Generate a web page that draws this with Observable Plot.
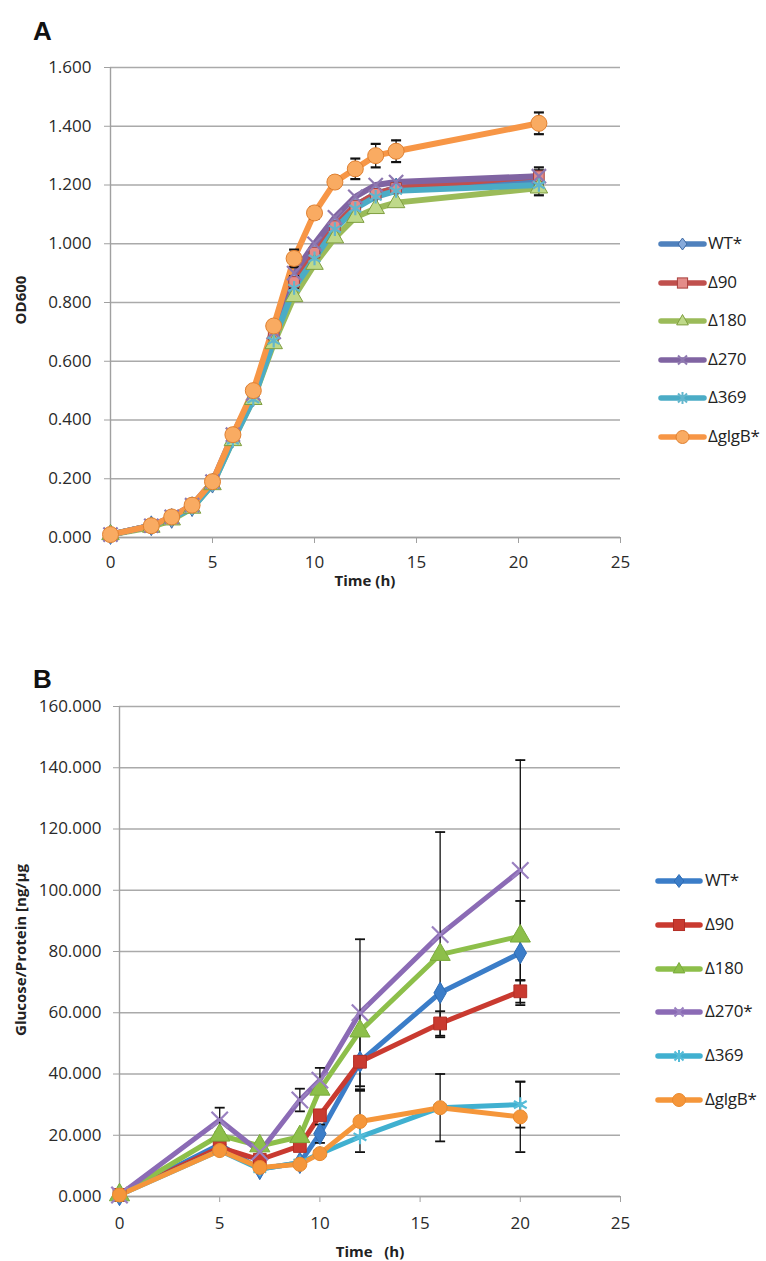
<!DOCTYPE html>
<html><head><meta charset="utf-8">
<script src="https://cdn.jsdelivr.net/npm/d3@7"></script>
<script src="https://cdn.jsdelivr.net/npm/@observablehq/plot@0.6"></script>
<style>
body{margin:0;background:#fff;}
#wrap{position:relative;width:766px;height:1261px;overflow:hidden;font-family:"Open Sans",sans-serif;color:#222;}
.panel{font-family:"Liberation Sans",Arial,sans-serif;font-weight:bold;font-size:26px;line-height:26px;color:#111;}
.title{font-weight:bold;font-size:15px;line-height:16px;height:16px;text-align:center;white-space:pre;color:#222;}
.leg{font-size:17px;line-height:20px;white-space:nowrap;color:#222;letter-spacing:-0.2px;}
</style></head>
<body><div id="wrap"></div>
<script>
// ---------- Panel A data (OD600) ----------
const namesA = ["WT*", "Δ90", "Δ180", "Δ270", "Δ369", "ΔglgB*"];
const timeA = [0, 2, 3, 4, 5, 6, 7, 8, 9, 10, 11, 12, 13, 14, 21];
const wtA    = [0.01, 0.04, 0.065, 0.105, 0.185, 0.34, 0.48, 0.68, 0.87, 0.97, 1.06, 1.13, 1.17, 1.19, 1.21];
const d90A   = [0.01, 0.04, 0.065, 0.105, 0.185, 0.34, 0.48, 0.69, 0.87, 0.97, 1.06, 1.13, 1.17, 1.19, 1.23];
const d180A  = [0.01, 0.035, 0.06, 0.10, 0.18, 0.33, 0.47, 0.66, 0.82, 0.93, 1.02, 1.09, 1.12, 1.14, 1.19];
const d270A  = [0.01, 0.04, 0.07, 0.11, 0.19, 0.35, 0.49, 0.70, 0.90, 1.00, 1.09, 1.16, 1.20, 1.21, 1.23];
const d369A  = [0.01, 0.04, 0.065, 0.10, 0.18, 0.33, 0.47, 0.67, 0.85, 0.95, 1.05, 1.12, 1.16, 1.18, 1.20];
const glgBA  = [0.01, 0.04, 0.07, 0.11, 0.19, 0.35, 0.50, 0.72, 0.95, 1.105, 1.21, 1.255, 1.30, 1.315, 1.41];
const errWtA   = [0,0,0,0,0,0,0,0,0,0,0,0,0,0,0.02];
const errD90A  = [0,0,0,0,0,0,0,0,0.02,0,0,0,0,0,0.03];
const errD180A = [0,0,0,0,0,0,0,0,0,0,0,0,0,0,0.025];
const errD270A = [0,0,0,0,0,0,0,0,0,0,0,0,0,0,0.02];
const errD369A = [0,0,0,0,0,0,0,0,0,0,0,0,0,0,0];
const errGlgBA = [0,0,0,0,0,0,0,0,0.03,0.02,0.02,0.035,0.04,0.037,0.037];
const yTicksA = [0, 0.2, 0.4, 0.6, 0.8, 1.0, 1.2, 1.4, 1.6];
const xTicks = [0, 5, 10, 15, 20, 25];

// ---------- Panel B data (Glucose/Protein) ----------
const namesB = ["WT*", "Δ90", "Δ180", "Δ270*", "Δ369", "ΔglgB*"];
const timeB = [0, 5, 7, 9, 10, 12, 16, 20];
const wtB    = [0.5, 17, 9, 11, 20.5, 44, 66.5, 79.5];
const d90B   = [0.5, 16, 12, 16.5, 26.5, 44, 56.5, 67];
const d180B  = [0.5, 20, 16.5, 19.5, 35, 54, 79, 85];
const d270B  = [0.5, 25, 14.5, 31.5, 38, 60, 85.5, 106.5];
const d369B  = [0.5, 15, 9, 11, 14, 19.5, 29, 30];
const glgBB  = [0.5, 15, 9.5, 10.5, 14, 24.5, 29, 26];
const errWtB   = [0, 0, 0, 0, 3, 9, 0, 17];
const errD90B  = [0, 0, 0, 1, 0, 0, 4, 3.7];
const errD180B = [0, 0, 0, 0, 0, 0, 0, 0];
const errD270B = [0, 4, 0, 3.7, 4, 24, 33.5, 36];
const errD369B = [0, 0, 0, 0, 0, 0, 0, 7.5];
const errGlgBB = [0, 0, 0, 0, 0, 10, 11, 11.5];
const yTicksB = [0, 20, 40, 60, 80, 100, 120, 140, 160];

// ---------- styles ----------
const symbols = ["diamond", "square", "triangle", "times", "asterisk", "circle"];
const styleA = [
  {line:"#4f81bd", fill:"#86aadb", stroke:"#3d6aa5", r:6},
  {line:"#c0504d", fill:"#e48c89", stroke:"#a8403d", r:6},
  {line:"#9bbb59", fill:"#bfd98a", stroke:"#7f9f40", r:6.5},
  {line:"#8064a2", fill:"none",    stroke:"#8e78b0", r:6.5},
  {line:"#4bacc6", fill:"none",    stroke:"#62b6cd", r:6.5},
  {line:"#f79646", fill:"#f9ab62", stroke:"#e08030", r:8}
];
const styleB = [
  {line:"#3b7dc8", fill:"#3b7dc8", stroke:"#2f6db5", r:6.5},
  {line:"#c93a30", fill:"#c93a30", stroke:"#b32e25", r:7.2},
  {line:"#8dbf4a", fill:"#8dbf4a", stroke:"#7aab3b", r:7.5},
  {line:"#8b6bb5", fill:"none",    stroke:"#9a80c0", r:7.5},
  {line:"#40b0d0", fill:"none",    stroke:"#55bcd8", r:7},
  {line:"#f5963a", fill:"#f5963a", stroke:"#ea8a2e", r:7}
];
const capSymbol = {draw(ctx, size){ const w = Math.sqrt(size/Math.PI); ctx.moveTo(-w,0); ctx.lineTo(w,0); }};

function rowsOf(names, times, vals, errs){
  const out = [];
  names.forEach((s,i)=> times.forEach((t,j)=> out.push({s, i, t, v: vals[i][j], e: errs[i][j]})));
  return out;
}

function makePlot(cfg){
  const rows = rowsOf(cfg.names, cfg.times, cfg.vals, cfg.errs);
  const errRows = rows.filter(d => d.e > 0);
  const marks = [
    Plot.gridY(cfg.yTicks, {stroke:"#aaaaaa", strokeOpacity:1, strokeWidth:1.4}),
    Plot.ruleX([0], {stroke:"#a0a0a0", strokeWidth:1.4}),
    Plot.ruleY([0], {stroke:"#a0a0a0", strokeWidth:1.4}),
    Plot.axisY(cfg.yTicks, {tickSize:6, tickPadding:cfg.yPad, tickFormat:d3.format(".3f"), fontSize:17, stroke:"#a0a0a0", fill:"#2a2a2a", label:null}),
    Plot.axisX(xTicks, {tickSize:6, tickPadding:cfg.xPad, fontSize:17, stroke:"#a0a0a0", fill:"#2a2a2a", label:null})
  ];
  cfg.names.forEach((s,i)=>{
    marks.push(Plot.line(rows.filter(d=>d.i===i), {x:"t", y:"v", stroke: cfg.style[i].line, strokeWidth: cfg.lw, strokeLinejoin:"round", strokeLinecap:"round"}));
  });
  marks.push(Plot.ruleX(errRows, {x:"t", y1:d=>d.v-d.e, y2:d=>d.v+d.e, stroke:"#111", strokeWidth:1.3}));
  marks.push(Plot.dot(errRows, {x:"t", y:d=>d.v+d.e, symbol:capSymbol, r:5, stroke:"#111", strokeWidth:cfg.capW, fill:"none"}));
  marks.push(Plot.dot(errRows, {x:"t", y:d=>d.v-d.e, symbol:capSymbol, r:5, stroke:"#111", strokeWidth:cfg.capW, fill:"none"}));
  cfg.names.forEach((s,i)=>{
    const st = cfg.style[i];
    const open = st.fill === "none";
    marks.push(Plot.dot(rows.filter(d=>d.i===i), {x:"t", y:"v", symbol: symbols[i], r: st.r,
      fill: open ? "none" : st.fill, stroke: st.stroke, strokeWidth: open ? 2.2 : 1}));
  });
  return Plot.plot({
    width: 766, height: cfg.height,
    marginLeft: cfg.left, marginRight: 766 - cfg.right, marginTop: cfg.top, marginBottom: cfg.bottom,
    x: {domain:[0,25], label:null},
    y: {domain: cfg.yDomain, label:null},
    style: {fontFamily:"'Open Sans', sans-serif", background:"transparent", overflow:"visible"},
    marks
  });
}

const wrap = document.getElementById("wrap");
function place(el, left, top){ el.style.position="absolute"; el.style.left=left+"px"; el.style.top=top+"px"; wrap.appendChild(el); return el; }

const plotA = makePlot({names:namesA, times:timeA, vals:[wtA,d90A,d180A,d270A,d369A,glgBA],
  errs:[errWtA,errD90A,errD180A,errD270A,errD369A,errGlgBA], yTicks:yTicksA, yDomain:[0,1.6],
  height:600, left:110, right:620, top:67, bottom:63, yPad:13, xPad:12, style:styleA, lw:6, capW:2.2});
place(plotA, 0, 0);

const plotB = makePlot({names:namesB, times:timeB, vals:[wtB,d90B,d180B,d270B,d369B,glgBB],
  errs:[errWtB,errD90B,errD180B,errD270B,errD369B,errGlgBB], yTicks:yTicksB, yDomain:[0,160],
  height:621, left:119, right:620, top:66, bottom:65, yPad:12, xPad:14, style:styleB, lw:5, capW:1.8});
place(plotB, 0, 640);

// ---------- texts ----------
function text(cls, str, left, top, w){
  const d = document.createElement("div"); d.className = cls; d.textContent = str;
  if (w) d.style.width = w + "px";
  return place(d, left, top);
}
text("panel", "A", 33, 18);
text("panel", "B", 33, 666);
text("title", "Time (h)", 290, 572, 150);
text("title", "Time   (h)", 295, 1243, 150);
function ytitle(str, cx, cy, w){
  const d = text("title", str, cx - w/2, cy - 8, w);
  d.style.transform = "rotate(-90deg)";
}
ytitle("OD600", 20, 300, 120);
ytitle("Glucose/Protein [ng/µg", 20, 950, 260);

// ---------- legends ----------
function legendMarker(sym, st, cx, cy){
  const r = Math.min(st.r, 6.5);
  const sw = 1;
  switch(sym){
    case "diamond": return `<path d="M${cx},${cy-r} L${cx+r*0.75},${cy} L${cx},${cy+r} L${cx-r*0.75},${cy} Z" fill="${st.fill}" stroke="${st.stroke}" stroke-width="${sw}"/>`;
    case "square": return `<rect x="${cx-r*0.85}" y="${cy-r*0.85}" width="${r*1.7}" height="${r*1.7}" fill="${st.fill}" stroke="${st.stroke}" stroke-width="${sw}"/>`;
    case "triangle": return `<path d="M${cx},${cy-r} L${cx+r*0.9},${cy+r*0.6} L${cx-r*0.9},${cy+r*0.6} Z" fill="${st.fill}" stroke="${st.stroke}" stroke-width="${sw}"/>`;
    case "times": return `<path d="M${cx-4.5},${cy-4.5} L${cx+4.5},${cy+4.5} M${cx+4.5},${cy-4.5} L${cx-4.5},${cy+4.5}" stroke="${st.stroke}" stroke-width="2"/>`;
    case "asterisk": return `<path d="M${cx-4.5},${cy-4.5} L${cx+4.5},${cy+4.5} M${cx+4.5},${cy-4.5} L${cx-4.5},${cy+4.5} M${cx},${cy-6} L${cx},${cy+6}" stroke="${st.stroke}" stroke-width="2"/>`;
    default: return `<circle cx="${cx}" cy="${cy}" r="${r}" fill="${st.fill}" stroke="${st.stroke}" stroke-width="${sw}"/>`;
  }
}
function legend(names, styles, x0, x1, y0, dy, tx){
  names.forEach((n,i)=>{
    const y = y0 + dy*i, st = styles[i];
    const w = x1 - x0 + 16;
    const svg = document.createElementNS("http://www.w3.org/2000/svg","svg");
    svg.setAttribute("width", w); svg.setAttribute("height", 20);
    svg.innerHTML = `<line x1="8" y1="10" x2="${w-8}" y2="10" stroke="${st.line}" stroke-width="5.5" stroke-linecap="round"/>` +
      legendMarker(symbols[i], st, w/2, 10);
    place(svg, x0 - 8, y - 10);
    text("leg", n, tx, y - 11);
  });
}
legend(namesA, styleA, 661, 704, 244, 38.6, 708);
legend(namesB, styleB, 658, 700, 881, 43.8, 705);
</script></body></html>
